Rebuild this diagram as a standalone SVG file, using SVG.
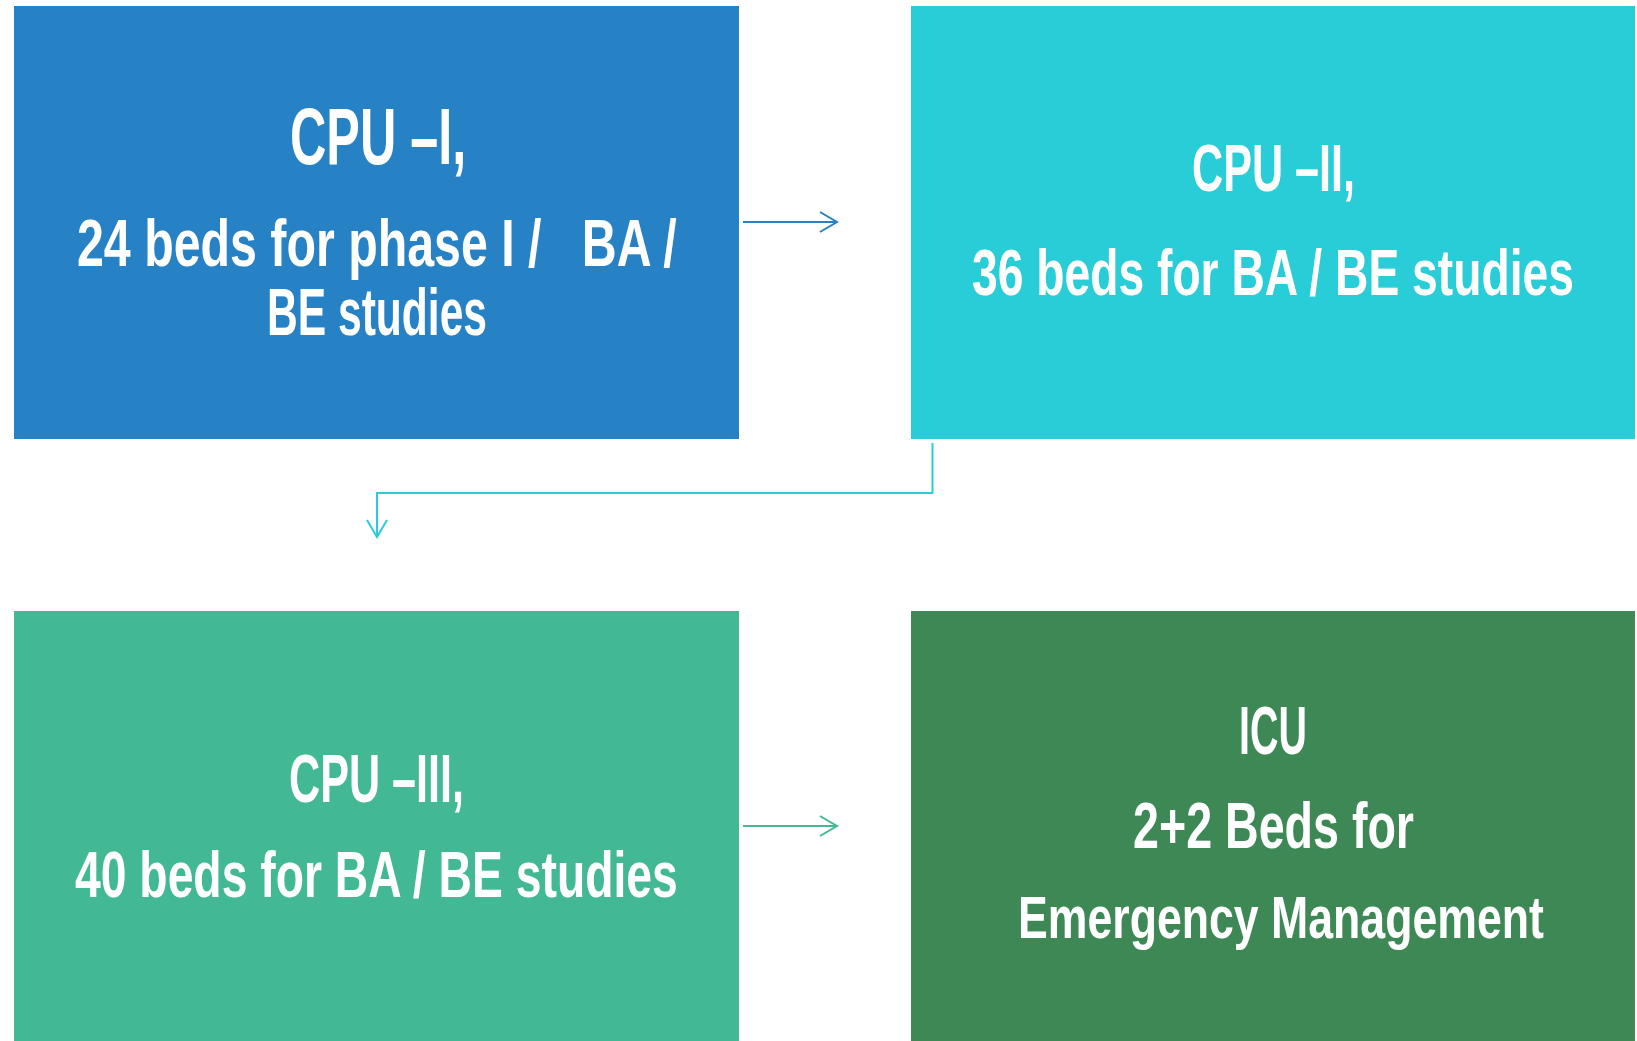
<svg xmlns="http://www.w3.org/2000/svg" width="1637" height="1041" viewBox="0 0 1637 1041">
  <style>
    .lbl { font-family: "Liberation Sans", Arial, sans-serif; font-weight: bold; fill: #ffffff; white-space: pre; }
    .conn { fill: none; stroke-width: 2; }
  </style>
  <defs>
    <marker id="ahBlue" markerUnits="userSpaceOnUse" viewBox="-20 -12 24 24" markerWidth="24" markerHeight="24" refX="0" refY="0" orient="auto">
      <path d="M-17,-10 L0,0 L-17,10" fill="none" stroke="#2681C5" stroke-width="2"/>
    </marker>
    <marker id="ahCyan" markerUnits="userSpaceOnUse" viewBox="-20 -12 24 24" markerWidth="24" markerHeight="24" refX="0" refY="0" orient="auto">
      <path d="M-17,-10 L0,0 L-17,10" fill="none" stroke="#29CDD7" stroke-width="2"/>
    </marker>
    <marker id="ahTeal" markerUnits="userSpaceOnUse" viewBox="-20 -12 24 24" markerWidth="24" markerHeight="24" refX="0" refY="0" orient="auto">
      <path d="M-17,-10 L0,0 L-17,10" fill="none" stroke="#43B894" stroke-width="2"/>
    </marker>
  </defs>
  <rect width="1637" height="1041" fill="#ffffff"/>

  <g id="cpu1">
    <rect x="14" y="6" width="725" height="433" fill="#2681C5"/>
    <text class="lbl" transform="translate(290,164) scale(0.629,1)" x="0" y="0" font-size="80" textLength="280" lengthAdjust="spacingAndGlyphs">CPU –I,</text>
    <text class="lbl" transform="translate(77,266) scale(0.719,1)" x="0" y="0" font-size="67" textLength="834" lengthAdjust="spacingAndGlyphs">24 beds for phase I /   BA /</text>
    <text class="lbl" transform="translate(267,335) scale(0.636,1)" x="0" y="0" font-size="67" textLength="346" lengthAdjust="spacingAndGlyphs">BE studies</text>
  </g>

  <g id="cpu2">
    <rect x="911" y="6" width="724" height="433" fill="#29CDD7"/>
    <text class="lbl" transform="translate(1192,191) scale(0.644,1)" x="0" y="0" font-size="67" textLength="253" lengthAdjust="spacingAndGlyphs">CPU –II,</text>
    <text class="lbl" transform="translate(972,295) scale(0.72,1)" x="0" y="0" font-size="64" textLength="836" lengthAdjust="spacingAndGlyphs">36 beds for BA / BE studies</text>
  </g>

  <g id="cpu3">
    <rect x="14" y="611" width="725" height="430" fill="#43B894"/>
    <text class="lbl" transform="translate(289,802) scale(0.634,1)" x="0" y="0" font-size="68" textLength="276" lengthAdjust="spacingAndGlyphs">CPU –III,</text>
    <text class="lbl" transform="translate(75,897) scale(0.71,1)" x="0" y="0" font-size="65" textLength="849" lengthAdjust="spacingAndGlyphs">40 beds for BA / BE studies</text>
  </g>

  <g id="icu">
    <rect x="911" y="611" width="724" height="430" fill="#3E8855"/>
    <text class="lbl" transform="translate(1239,754) scale(0.58,1)" x="0" y="0" font-size="68" textLength="117" lengthAdjust="spacingAndGlyphs">ICU</text>
    <text class="lbl" transform="translate(1133,848) scale(0.728,1)" x="0" y="0" font-size="64" textLength="386" lengthAdjust="spacingAndGlyphs">2+2 Beds for</text>
    <text class="lbl" transform="translate(1018,938) scale(0.746,1)" x="0" y="0" font-size="60" textLength="705" lengthAdjust="spacingAndGlyphs">Emergency Management</text>
  </g>

  <g id="connectors">
    <path class="conn" d="M743,222 L837,222" stroke="#2681C5" marker-end="url(#ahBlue)"/>
    <path class="conn" d="M932.5,443 L932.5,493 L377,493 L377,537" stroke="#29CDD7" marker-end="url(#ahCyan)"/>
    <path class="conn" d="M743,826 L837,826" stroke="#43B894" marker-end="url(#ahTeal)"/>
  </g>
</svg>
